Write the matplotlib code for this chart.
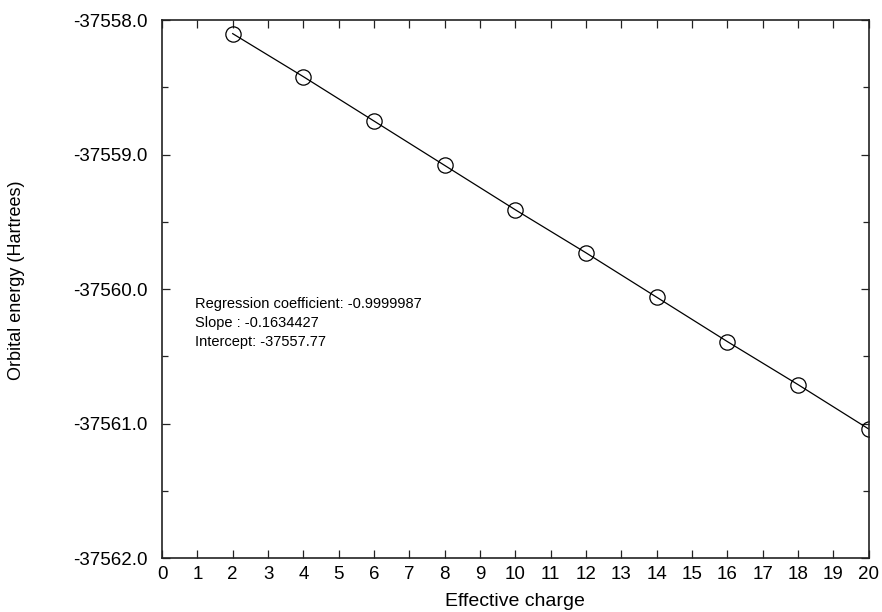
import numpy as np
import matplotlib
matplotlib.use("Agg")
import matplotlib.pyplot as plt
from matplotlib.ticker import MultipleLocator, FormatStrFormatter

plt.rcParams['font.family'] = ['Liberation Sans', 'DejaVu Sans']

# values
charge = [2, 4, 6, 8, 10, 12, 14, 16, 18, 20]
energy = [-37558.10, -37558.42, -37558.75, -37559.08, -37559.41,
          -37559.73, -37560.06, -37560.39, -37560.71, -37561.04]
fit_text = ["Regression coefficient: -0.9999987",
            "Slope : -0.1634427",
            "Intercept: -37557.77"]

fig = plt.figure(figsize=(8.82, 6.12), dpi=100)
ax = fig.add_axes([0.1837, 0.088, 0.8013, 0.879])

ax.plot(charge, energy, color='black', lw=0.9, marker='o', ms=11,
        mfc='none', mec='black', mew=0.9)

ax.set_xlim(0, 20)
ax.set_ylim(-37562, -37558)
ax.xaxis.set_major_locator(MultipleLocator(1))
ax.yaxis.set_major_locator(MultipleLocator(1))
ax.yaxis.set_minor_locator(MultipleLocator(0.5))
ax.yaxis.set_major_formatter(FormatStrFormatter('%.1f'))
ax.tick_params(which='both', direction='in', top=True, right=True,
               labelsize=13.5, width=0.9, color='#222222')
ax.tick_params(which='major', length=6)
ax.tick_params(which='minor', length=4)
ax.tick_params(axis='y', which='major', pad=10.5)
ax.tick_params(axis='x', which='major', pad=6)
for s in ax.spines.values():
    s.set_linewidth(1.2)
    s.set_color('#222222')

ax.text(0.93, -37560.25, "\n".join(fit_text), fontsize=10.5,
        va='center', ha='left', linespacing=1.48)

ax.set_xlabel("Effective charge", fontsize=14)
ax.set_ylabel("Orbital energy (Hartrees)", fontsize=13)
ax.xaxis.set_label_coords(0.5, -0.065)
ax.yaxis.set_label_coords(-0.194, 0.517)

fig.savefig("out.png", dpi=100)
